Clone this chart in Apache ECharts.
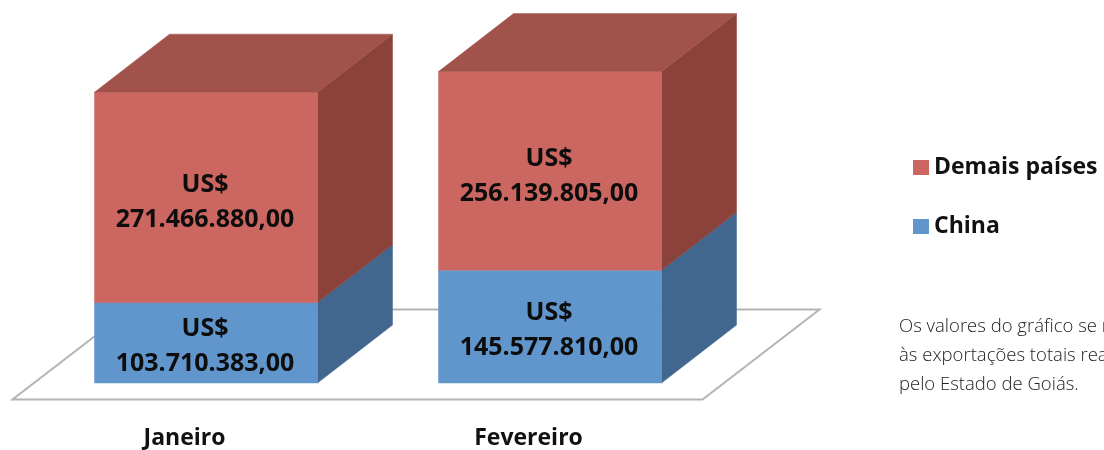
<!DOCTYPE html>
<html><head><meta charset="utf-8">
<style>html,body{margin:0;padding:0;background:#fff;overflow:hidden}#c{width:1104px;height:450px}</style>
<script src="https://cdn.jsdelivr.net/npm/echarts@6/dist/echarts.min.js"></script>
</head><body><div id="c"></div>
<script>
const categories = ['Janeiro', 'Fevereiro'];
const china = [103710383, 145577810];
const demais = [271466880, 256139805];
const seriesNames = ['Demais países', 'China'];
const noteLines = ['Os valores do gráfico se referem', 'às exportações totais realizadas', 'pelo Estado de Goiás.'];

const FONT = '"Open Sans", sans-serif';
const DX = 75, DY = -58, L = -90, R = 133;
const fmt = v => 'US$\n' + String(v).replace(/\B(?=(\d{3})+$)/g, '.') + ',00';

function poly(points, fill) {
  return { type: 'polygon', shape: { points }, style: { fill, stroke: fill, lineWidth: 0.5 } };
}
function bar(colors, withTop) {
  return function (params, api) {
    const c = api.value(0);
    const p0 = api.coord([c, api.value(1)]);
    const p1 = api.coord([c, api.value(2)]);
    const x0 = p0[0] + L, x1 = p0[0] + R, yb = p0[1], yt = p1[1];
    const children = [
      poly([[x1, yb], [x1 + DX, yb + DY], [x1 + DX, yt + DY], [x1, yt]], colors.side),
      poly([[x0, yb], [x1, yb], [x1, yt], [x0, yt]], colors.front)
    ];
    if (withTop) children.push(poly([[x0, yt], [x1, yt], [x1 + DX, yt + DY], [x0 + DX, yt + DY]], colors.top));
    children.push({
      type: 'text',
      style: {
        x: (x0 + x1) / 2 - 1, y: (yb + yt) / 2 + (withTop ? 5 : 3.5),
        text: fmt(api.value(2) - api.value(1)),
        align: 'center', verticalAlign: 'middle',
        font: 'bold 25px ' + FONT, lineHeight: 35, fill: '#0d0d0d'
      }
    });
    return { type: 'group', children };
  };
}
const chinaData = categories.map((c, i) => [i, 0, china[i]]);
const demaisData = categories.map((c, i) => [i, china[i], china[i] + demais[i]]);

const chart = echarts.init(document.getElementById('c'), null, { renderer: 'canvas' });
chart.setOption({
  animation: false,
  backgroundColor: '#fff',
  grid: { left: 12.5, width: 688, top: 34.2, height: 351.8 },
  xAxis: {
    type: 'category', data: categories,
    axisLine: { show: false }, axisTick: { show: false },
    axisLabel: { margin: 44, color: '#111', fontFamily: FONT, fontWeight: 'bold', fontSize: 23 }
  },
  yAxis: { type: 'value', min: 0, max: 450000000, show: false },
  legend: {
    data: seriesNames, orient: 'vertical', left: 908, top: 151, itemWidth: 16, itemHeight: 15,
    itemGap: 36, icon: 'rect', selectedMode: false,
    textStyle: { color: '#111', fontFamily: FONT, fontWeight: 'bold', fontSize: 23, padding: [0, 0, 0, 0] }
  },
  series: [
    {
      type: 'custom', name: 'Piso', data: [[0]], silent: true, z: 1,
      renderItem(params, api) {
        const a = api.coord([0, 0]), b = api.coord([1, 0]);
        const xl = a[0] - 172, xr = b[0] + 174, y = a[1] + 16.5;
        return {
          type: 'polygon',
          shape: { points: [[xl, y], [xr, y], [xr + 117, y - 90], [xl + 117, y - 90]] },
          style: { fill: '#fff', stroke: '#b4b4b4', lineWidth: 2 }
        };
      }
    },
    {
      type: 'custom', name: 'China', z: 2, data: chinaData, encode: { x: 0, y: [1, 2] },
      itemStyle: { color: '#6196CC' },
      renderItem: bar({ front: '#6196CC', side: '#41678F' }, false)
    },
    {
      type: 'custom', name: 'Demais países', z: 2, data: demaisData, encode: { x: 0, y: [1, 2] },
      itemStyle: { color: '#CC6660' },
      renderItem: bar({ front: '#CC6660', side: '#8A423B', top: '#A1524B' }, true)
    }
  ],
  graphic: [{
    type: 'text', left: 899, top: 312, silent: true,
    style: { text: noteLines.join('\n'), font: '300 18.5px ' + FONT, lineHeight: 29, fill: '#222' }
  }]
});
</script></body></html>
